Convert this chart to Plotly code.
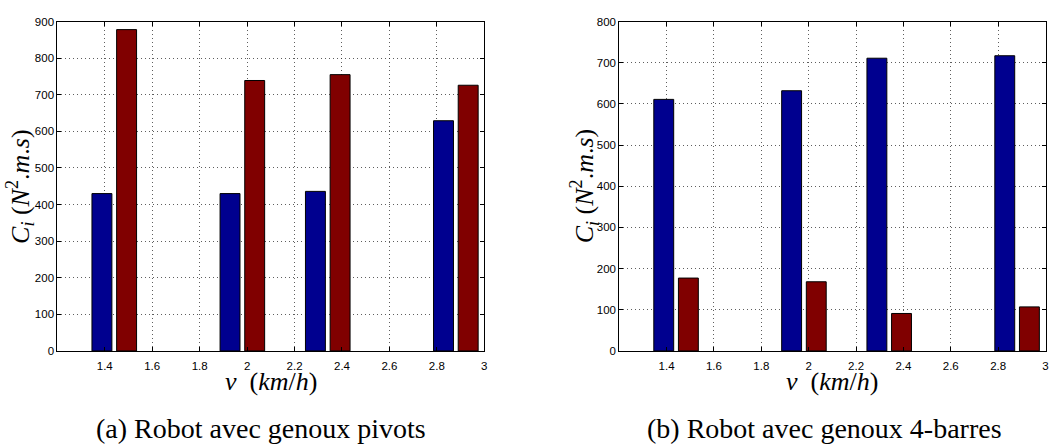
import plotly.graph_objects as go

# ---- data ----
speeds = [1.44, 1.98, 2.34, 2.88]          # v (km/h)
pivots_blue = [430, 430, 436, 629]
pivots_red = [878, 739, 755, 726]
barres_blue = [611, 632, 711, 717]
barres_red = [177, 168, 91, 107]
x_tickvals = [1.4, 1.6, 1.8, 2.0, 2.2, 2.4, 2.6, 2.8, 3.0]
x_ticktext = ["1.4", "1.6", "1.8", "2", "2.2", "2.4", "2.6", "2.8", "3"]
captions = ["(a) Robot avec genoux pivots", "(b) Robot avec genoux 4-barres"]

W, H = 1050, 445
BLUE = "rgb(0,0,143)"
RED = "rgb(128,0,0)"
BAR_W = 0.084

fig = go.Figure()

def add_bars(xa, ya, blue, red):
    fig.add_trace(go.Bar(x=speeds, y=blue, width=BAR_W, offset=-0.094,
                         marker=dict(color=BLUE, line=dict(color="black", width=1)),
                         xaxis=xa, yaxis=ya, showlegend=False))
    fig.add_trace(go.Bar(x=speeds, y=red, width=BAR_W, offset=0.010,
                         marker=dict(color=RED, line=dict(color="black", width=1)),
                         xaxis=xa, yaxis=ya, showlegend=False))

add_bars("x", "y", pivots_blue, pivots_red)
add_bars("x2", "y2", barres_blue, barres_red)

ydom = [1 - 354.5 / H, 1 - 16 / H]
dom1 = [57.5 / W, 485.7 / W]
dom2 = [621 / W, 1048.5 / W]

tickfont = dict(family="Liberation Sans, Arial, sans-serif", size=11.5, color="black")
grid = dict(showgrid=True, gridcolor="rgba(40,40,40,0.75)", griddash="1px,3px", gridwidth=1)
common_x = dict(range=[1.2, 3.0], tickvals=x_tickvals, ticktext=x_ticktext,
                showline=True, linecolor="black", linewidth=1, mirror="ticks",
                ticks="inside", ticklen=4, tickcolor="black", tickfont=tickfont,
                ticklabelstandoff=4,
                zeroline=False, fixedrange=True, **grid)
common_y = dict(showline=True, linecolor="black", linewidth=1, mirror="ticks",
                ticks="inside", ticklen=4, tickcolor="black", tickfont=tickfont,
                zeroline=False, dtick=100, fixedrange=True, **grid)

serif = "Liberation Serif, DejaVu Serif, serif"
ylabel = "<i>C<sub>i</sub></i> (<i>N</i><sup>2</sup>.<i>m</i>.<i>s</i>)"
xlabel = "<i>v</i>  (<i>km</i>/<i>h</i>)"

annotations = []
for cx, ylx in [(271.6, 20), (834.75, 586)]:
    annotations.append(dict(text=ylabel, x=ylx / W, y=1 - 185 / H, xref="paper", yref="paper",
                            textangle=-90, showarrow=False, xanchor="center", yanchor="middle",
                            font=dict(family=serif, size=26, color="black")))
    annotations.append(dict(text=xlabel, x=cx / W, y=1 - 386 / H, xref="paper", yref="paper",
                            showarrow=False, xanchor="center", yanchor="middle",
                            font=dict(family=serif, size=26, color="black")))
for cap, cap_cx in zip(captions, [262, 827]):
    annotations.append(dict(text=cap, x=cap_cx / W, y=1 - 434 / H, xref="paper", yref="paper",
                            showarrow=False, xanchor="center", yanchor="middle",
                            font=dict(family=serif, size=28, color="black")))

fig.update_layout(
    width=W, height=H,
    margin=dict(l=0, r=0, t=0, b=0),
    paper_bgcolor="white", plot_bgcolor="white",
    barmode="overlay",
    xaxis=dict(domain=dom1, anchor="y", **common_x),
    yaxis=dict(domain=ydom, anchor="x", range=[0, 900], **common_y),
    xaxis2=dict(domain=dom2, anchor="y2", **common_x),
    yaxis2=dict(domain=ydom, anchor="x2", range=[0, 800], **common_y),
    annotations=annotations,
)

fig.write_html("out.html", config={"displayModeBar": False},
               post_script="document.body.style.margin='0';document.body.style.overflow='hidden';")
